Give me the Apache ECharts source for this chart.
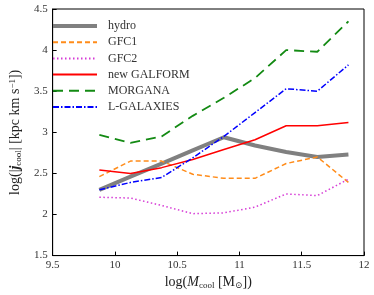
<!DOCTYPE html>
<html><head><meta charset="utf-8">
<script src="https://cdn.jsdelivr.net/npm/echarts@6/dist/echarts.min.js"></script>
<style>html,body{margin:0;padding:0;background:#fff}#c{width:374px;height:295px}</style>
</head><body><div id="c"></div>
<script>
const massBins = [9.875, 10.125, 10.375, 10.625, 10.875, 11.125, 11.375, 11.625, 11.875];
const hydro    = [2.30, 2.46, 2.62, 2.78, 2.94, 2.84, 2.76, 2.70, 2.73];
const gfc1     = [2.46, 2.65, 2.65, 2.49, 2.44, 2.44, 2.62, 2.70, 2.39];
const gfc2     = [2.21, 2.20, 2.11, 2.01, 2.02, 2.09, 2.25, 2.23, 2.43];
const galform  = [2.54, 2.50, 2.57, 2.67, 2.79, 2.91, 3.08, 3.08, 3.12];
const morgana  = [2.97, 2.87, 2.95, 3.20, 3.42, 3.66, 4.00, 3.98, 4.35];
const lgal     = [2.30, 2.39, 2.45, 2.69, 2.95, 3.24, 3.53, 3.50, 3.82];
const seriesNames = ['hydro', 'GFC1', 'GFC2', 'new GALFORM', 'MORGANA', 'L-GALAXIES'];

const pairs = arr => massBins.map((x, i) => [x, arr[i]]);
const font = '"Liberation Serif", "DejaVu Serif", serif';
const mk = (name, data, color, width, type) => ({
  name, type: 'line', data: pairs(data), symbol: 'none', smooth: false,
  lineStyle: { color, width, type }, itemStyle: { color }
});

const chart = echarts.init(document.getElementById('c'));
chart.setOption({
  animation: false,
  grid: { left: 40, right: 10, top: 9, bottom: 36, show: true, borderColor: '#000', borderWidth: 1 },
  legend: {
    left: 46, top: 15, orient: 'vertical', itemWidth: 44, itemHeight: 10, itemGap: 4.2,
    itemStyle: { opacity: 0 },
    textStyle: { fontFamily: font, fontSize: 12, color: '#333', padding: [0, 0, 0, 6] },
    data: seriesNames.map((n, i) => i === 0 ? { name: n, lineStyle: { width: 4 } } : n)
  },
  xAxis: {
    type: 'value', min: 9.5, max: 12, interval: 0.5,
    name: '{n|log(}{i|M}{s|cool}{n| [M}{s|⊙}{n|])}',
    nameLocation: 'middle', nameGap: 18,
    nameTextStyle: { rich: {
      n: { fontFamily: font, fontSize: 14, color: '#222' },
      i: { fontFamily: font, fontSize: 14, fontStyle: 'italic', color: '#222' },
      s: { fontFamily: font, fontSize: 9, color: '#222', verticalAlign: 'bottom', padding: [6, 0, 0, 0] }
    }},
    axisLine: { lineStyle: { color: '#000' } },
    axisTick: { inside: true, length: 4, lineStyle: { color: '#000' } },
    axisLabel: { fontFamily: font, fontSize: 11, color: '#333', margin: 4,
      formatter: v => String(v) },
    splitLine: { show: false }
  },
  yAxis: {
    type: 'value', min: 1.5, max: 4.5, interval: 0.5,
    name: '{n|log(|}{b|j}{s|cool}{n|| [kpc km s}{p|−1}{n|])}',
    nameLocation: 'middle', nameGap: 24, nameRotate: 90,
    nameTextStyle: { rich: {
      n: { fontFamily: font, fontSize: 14, color: '#222' },
      b: { fontFamily: font, fontSize: 14, fontStyle: 'italic', fontWeight: 'bold', color: '#222' },
      s: { fontFamily: font, fontSize: 9, color: '#222', verticalAlign: 'bottom', padding: [6, 0, 0, 0] },
      p: { fontFamily: font, fontSize: 9, color: '#222', verticalAlign: 'top', padding: [0, 0, 6, 0] }
    }},
    axisLine: { lineStyle: { color: '#000' } },
    axisTick: { inside: true, length: 4, lineStyle: { color: '#000' } },
    axisLabel: { fontFamily: font, fontSize: 11, color: '#333', margin: 5,
      formatter: v => String(v) },
    splitLine: { show: false }
  },
  series: [
    mk('hydro', hydro, '#808080', 4, 'solid'),
    mk('GFC1', gfc1, '#ff8c1a', 1.5, [5, 3]),
    mk('GFC2', gfc2, '#d63bd6', 1.5, [1.5, 2.5]),
    mk('new GALFORM', galform, '#ff0000', 1.5, 'solid'),
    mk('MORGANA', morgana, '#138a13', 1.8, [10, 6]),
    mk('L-GALAXIES', lgal, '#0000ff', 1.5, [6, 2, 1.5, 2])
  ]
});
</script></body></html>
